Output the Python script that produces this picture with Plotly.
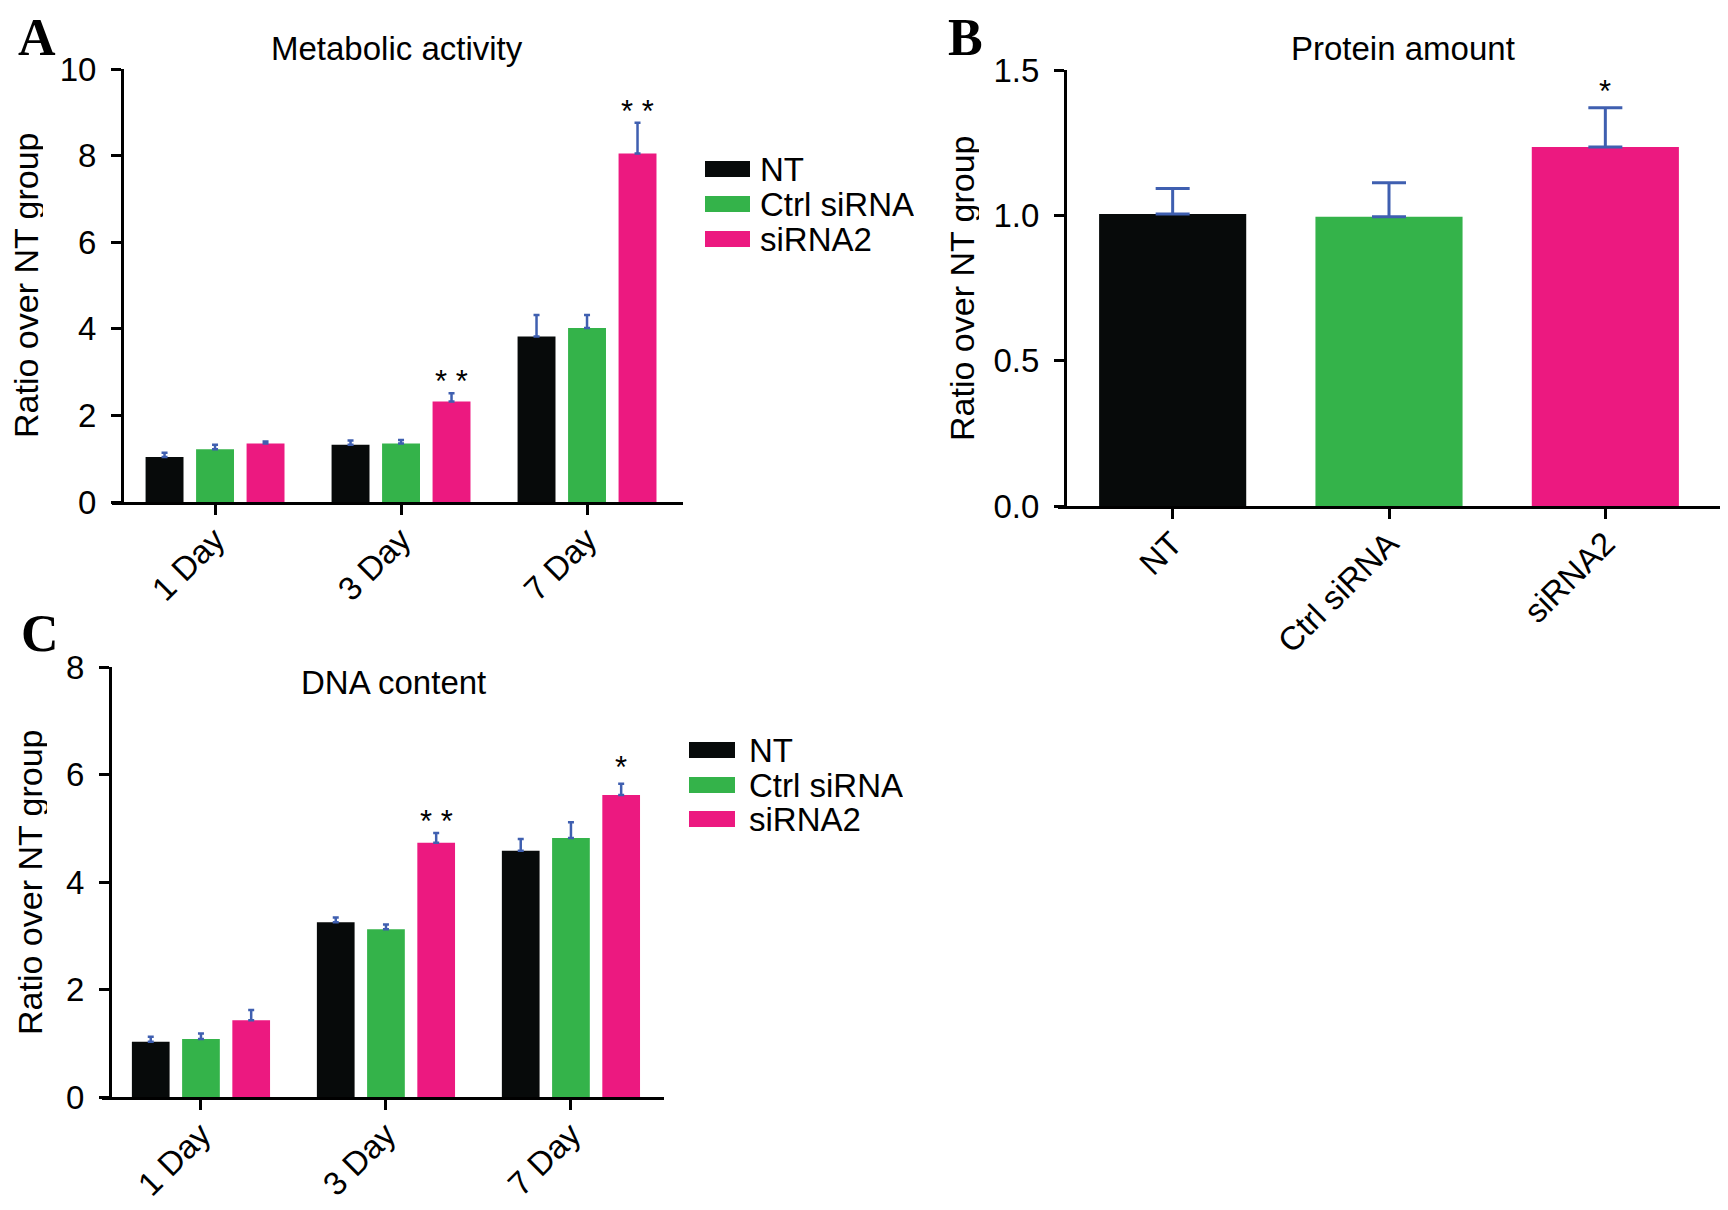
import plotly.graph_objects as go

# ================= data =================
GROUPS = ["NT", "Ctrl siRNA", "siRNA2"]
DAYS = ["1 Day", "3 Day", "7 Day"]

# A: metabolic activity (ratio over NT), mean and upper error
META_NT = [1.04, 1.32, 3.82]
META_CTRL = [1.22, 1.35, 4.02]
META_SI2 = [1.35, 2.32, 8.05]
META_NT_ERR = [0.10, 0.10, 0.50]
META_CTRL_ERR = [0.10, 0.08, 0.30]
META_SI2_ERR = [0.05, 0.19, 0.71]
META_SIG = ["", "* *", "* *"]

# B: protein amount
PROT = [1.005, 0.995, 1.235]
PROT_ERR = [0.087, 0.117, 0.135]
PROT_SIG = ["", "", "*"]

# C: DNA content
DNA_NT = [1.03, 3.25, 4.58]
DNA_CTRL = [1.08, 3.12, 4.82]
DNA_SI2 = [1.43, 4.73, 5.62]
DNA_NT_ERR = [0.09, 0.09, 0.22]
DNA_CTRL_ERR = [0.10, 0.09, 0.29]
DNA_SI2_ERR = [0.19, 0.18, 0.21]
DNA_SIG = ["", "* *", "*"]

# ================= style =================
# the page body has an 8px margin, so the figure is 16px smaller than the
# window and every position below is given in window pixels
OFF = 8
FW, FH = 1728 - 2 * OFF, 1210 - 2 * OFF
COLORS = ["#070a0a", "#34b34a", "#ec1980"]
ERR_COLOR = "#3f5fb0"
FONT = "Liberation Sans, Arial, sans-serif"
SERIF = "Liberation Serif, Times New Roman, serif"
BARGAP = 0.1855
BARGROUPGAP = 0.249


def px(x):
    return (x - OFF) / FW


def py(y):
    return 1 - (y - OFF) / FH


fig = go.Figure()


def add_group(xax, yax, series, errs):
    for name, vals, err, col in zip(GROUPS, series, errs, COLORS):
        fig.add_trace(go.Bar(
            x=DAYS, y=vals, name=name, marker=dict(color=col, line=dict(width=0)),
            error_y=dict(type="data", array=err, arrayminus=[0] * len(err), symmetric=False,
                         color=ERR_COLOR, thickness=2.5, width=3),
            xaxis=xax, yaxis=yax, showlegend=False))


add_group("x", "y", [META_NT, META_CTRL, META_SI2], [META_NT_ERR, META_CTRL_ERR, META_SI2_ERR])
add_group("x3", "y3", [DNA_NT, DNA_CTRL, DNA_SI2], [DNA_NT_ERR, DNA_CTRL_ERR, DNA_SI2_ERR])

fig.add_trace(go.Bar(
    x=GROUPS, y=PROT, marker=dict(color=COLORS, line=dict(width=0)), width=0.68,
    error_y=dict(type="data", array=PROT_ERR, arrayminus=[0] * 3, symmetric=False,
                 color=ERR_COLOR, thickness=3, width=17),
    xaxis="x2", yaxis="y2", showlegend=False))

axis_common = dict(
    showline=True, linecolor="black", linewidth=3, ticks="outside", ticklen=10,
    tickwidth=3, tickcolor="black", showgrid=False, zeroline=False,
    tickfont=dict(family=FONT, size=33, color="black"),
)
xtick = dict(tickangle=-45, ticklabelstandoff=-8)

fig.update_layout(
    width=FW, height=FH, template="none",
    margin=dict(l=0, r=0, t=0, b=0),
    paper_bgcolor="white", plot_bgcolor="white",
    barmode="group", bargap=BARGAP, bargroupgap=BARGROUPGAP,
    showlegend=False,
    # A
    xaxis=dict(axis_common, **xtick, domain=[px(112), px(683)], anchor="y",
               range=[-0.554, 2.516]),
    yaxis=dict(axis_common, domain=[py(502), py(69)], anchor="free", position=px(122),
               range=[0, 10], tickvals=[0, 2, 4, 6, 8, 10], ticklabelstandoff=8),
    # B
    xaxis2=dict(axis_common, **xtick, domain=[px(1058), px(1720)], anchor="y2",
                range=[-0.53, 2.53]),
    yaxis2=dict(axis_common, domain=[py(506), py(70)], anchor="free", position=px(1065),
                range=[0, 1.5], tickvals=[0, 0.5, 1.0, 1.5], tickformat=".1f",
                ticklabelstandoff=8),
    # C
    xaxis3=dict(axis_common, **xtick, domain=[px(102), px(664)], anchor="y3",
                range=[-0.535, 2.503]),
    yaxis3=dict(axis_common, domain=[py(1097), py(667)], anchor="free", position=px(110),
                range=[0, 8], tickvals=[0, 2, 4, 6, 8], ticklabelstandoff=8),
)

ann = []
shapes = []


def paper_text(text, x, y, size, family=FONT, xanchor="center", angle=0, height=None):
    a = dict(text=text, x=px(x), y=py(y), xref="paper", yref="paper",
             xanchor=xanchor, yanchor="middle", textangle=angle, showarrow=False,
             font=dict(family=family, size=size, color="black"))
    if height:
        a["height"] = height
    ann.append(a)


# panel letters, titles, axis titles
for letter, x, y in [("A", 37, 38), ("B", 965, 38), ("C", 40, 633)]:
    paper_text(f"<b>{letter}</b>", x, y, 52, family=SERIF)
for title, x, y in [("Metabolic activity", 397, 48), ("Protein amount", 1403, 48),
                    ("DNA content", 393, 683)]:
    paper_text(title, x, y, 33)
for x, y in [(26, 285), (962, 288), (30, 882)]:
    paper_text("Ratio over NT group", x, y, 34, angle=-90, height=34)

# significance stars
pitch = (1 - BARGAP) / 3
for xr, yr, sig, vals, errs, off in [("x", "y", META_SIG, META_SI2, META_SI2_ERR, pitch),
                                     ("x3", "y3", DNA_SIG, DNA_SI2, DNA_SI2_ERR, pitch),
                                     ("x2", "y2", PROT_SIG, PROT, PROT_ERR, 0)]:
    for i, s in enumerate(sig):
        if not s:
            continue
        ann.append(dict(text=s, x=i + off, y=vals[i] + errs[i], xref=xr, yref=yr,
                        xanchor="center", yanchor="bottom",
                        yshift=-8 if len(s) > 1 else -3, showarrow=False,
                        font=dict(family=FONT, size=31, color="black")))

# hand-drawn legends (wide swatches like the original)
for (sx0, sx1, tx, ys) in [(705, 750, 758, [169, 204, 239]), (689, 735, 747, [750, 785, 819])]:
    for name, col, yc in zip(GROUPS, COLORS, ys):
        shapes.append(dict(type="rect", xref="paper", yref="paper",
                           x0=px(sx0), x1=px(sx1), y0=py(yc + 8), y1=py(yc - 8),
                           fillcolor=col, line=dict(width=0)))
        paper_text(name, tx, yc, 33, xanchor="left", height=33)

fig.update_layout(annotations=ann, shapes=shapes)

fig.write_html("out.html")
